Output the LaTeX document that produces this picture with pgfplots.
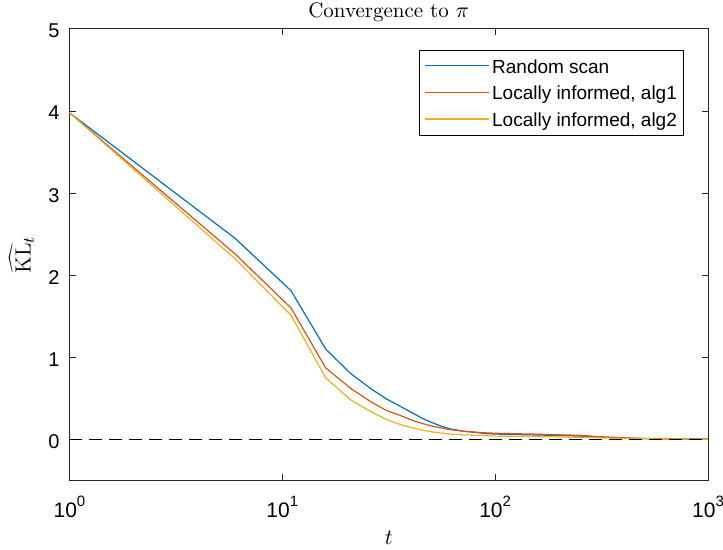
\documentclass[border=0pt]{standalone}
\usepackage{fontspec}
\usepackage{pgfplots}
\pgfplotsset{compat=1.18}
\newfontfamily\helv{Liberation Sans}
\definecolor{mblue}{rgb}{0,0.447,0.741}
\definecolor{mred}{rgb}{0.85,0.325,0.098}
\definecolor{myellow}{rgb}{0.929,0.694,0.125}
\definecolor{axgray}{rgb}{0.15,0.15,0.15}
\newcommand{\tl}[1]{\helv 10\raisebox{1.0ex}{\fontsize{7.5}{9}\selectfont #1}}
\begin{document}
\begin{tikzpicture}
\begin{axis}[
  scale only axis,
  width=319.5pt, height=225.9pt,
  xmode=log, log basis x=10,
  xmin=1, xmax=1000, ymin=-0.5, ymax=5,
  xtick={1,10,100,1000},
  xticklabels={\tl{0},\tl{1},\tl{2},\tl{3}},
  ytick={0,1,2,3,4,5},
  yticklabels={0,1,2,3,4,5},
  yticklabel style={font=\helv\fontsize{10}{12}\selectfont, anchor=east, inner sep=0pt, xshift=-4.8pt, yshift=-1pt},
  xticklabel style={font=\fontsize{10.5}{12}\selectfont, anchor=base, inner sep=0pt, yshift=-18.5pt},
  tick align=inside,
  major tick length=3.2pt, minor tick length=2.4pt,
  every tick/.style={axgray, line width=0.5pt},
  axis line style={axgray, line width=0.5pt},
  every axis title shift=0pt,
  title={Convergence to $\pi$},
  title style={at={(rel axis cs:0.5,1)}, anchor=center, yshift=8.5pt, font=\fontsize{10.5}{12}\selectfont},
  xlabel={$t$},
  xlabel style={at={(rel axis cs:0.5,0)}, anchor=center, yshift=-28.7pt, font=\fontsize{11}{12}\selectfont},
  ylabel={$\widehat{\mathrm{KL}}_t$},
  ylabel style={at={(rel axis cs:0,0.5)}, anchor=center, rotate=0, yshift=24pt, font=\fontsize{11}{12}\selectfont},
  legend style={at={(rel axis cs:0.963,0.954)}, anchor=north east, draw=black, line width=0.5pt,
    font=\helv\fontsize{9.5}{11}\selectfont, inner xsep=2.5pt, inner ysep=3.5pt, row sep=4.5pt,
    nodes={inner sep=1pt, text depth=0pt}},
  legend cell align=left,
  legend image code/.code={\draw[#1, line width=0.75pt] (0pt,0.25pt) -- (32pt,0.25pt);},
]
\coordinate (bl) at (rel axis cs:0,0);
\coordinate (tr) at (rel axis cs:1,1);
\addplot[draw=mblue, line width=0.6pt] coordinates {
(1,3.98) (6,2.45) (11,1.81) (16,1.10) (21,0.80) (26,0.62) (31,0.49) (36,0.40) (41,0.32) (46,0.25) (51,0.20) (56,0.16) (61,0.13) (71,0.10) (81,0.085) (91,0.07) (101,0.065) (121,0.06) (151,0.055) (201,0.048) (251,0.04) (301,0.03) (401,0.016) (501,0.01) (601,0.008) (801,0.005) (996,0.003)
};
\addlegendentry{Random scan}
\addplot[draw=mred, line width=0.6pt] coordinates {
(1,3.98) (6,2.26) (11,1.60) (16,0.87) (21,0.62) (26,0.46) (31,0.35) (36,0.29) (41,0.23) (46,0.19) (51,0.16) (61,0.12) (71,0.10) (81,0.088) (91,0.08) (101,0.075) (121,0.07) (151,0.065) (201,0.056) (251,0.05) (301,0.035) (401,0.02) (501,0.012) (601,0.01) (801,0.006) (996,0.004)
};
\addlegendentry{Locally informed, alg1}
\addplot[draw=myellow, line width=0.6pt] coordinates {
(1,3.98) (6,2.20) (11,1.51) (16,0.75) (21,0.48) (26,0.34) (31,0.24) (36,0.18) (41,0.14) (46,0.11) (51,0.09) (61,0.065) (71,0.055) (81,0.05) (91,0.045) (101,0.04) (151,0.035) (201,0.03) (251,0.025) (301,0.02) (401,0.012) (501,0.008) (601,0.006) (801,0.004) (996,0.003)
};
\addlegendentry{Locally informed, alg2}
\addplot[black, line width=0.6pt, dash pattern=on 6.3pt off 3.7pt, forget plot] coordinates {(1,0) (1000,0)};
\end{axis}
\pgfresetboundingbox
\path ([xshift=-34.75pt,yshift=-34.65pt]bl) rectangle ([xshift=7.5pt,yshift=14.5pt]tr);
\end{tikzpicture}
\end{document}
